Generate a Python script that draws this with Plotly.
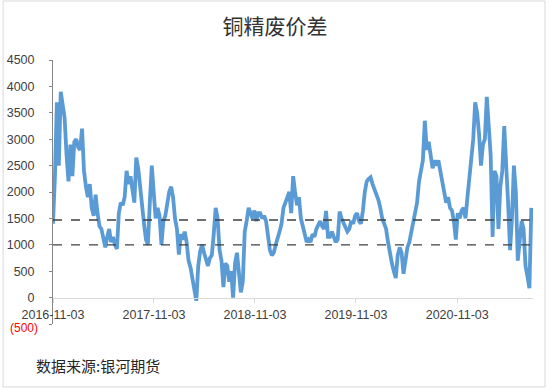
import pandas as pd
import plotly.graph_objects as go

# ---------------- data ----------------
title_text = "铜精废价差"
source_text = "数据来源:银河期货"
start_date = "2016-11-03"
values = [
    1400, 2300, 3700, 2500, 3900, 3600, 3400, 2700, 2200, 2900,
    2300, 2950, 3000, 2850, 2800, 3200, 2400, 2100, 1900, 2150,
    1700, 1550, 1950, 1600, 1350, 1300, 1100, 950, 1150, 1300,
    1050, 1150, 1000, 920, 1600, 1800, 1750, 1900, 2400, 2150,
    2300, 2000, 1800, 2650, 2450, 2100, 1700, 1400, 1100, 1000,
    1800, 2500, 2000, 1500, 1700, 1550, 1000, 1450, 1550, 1800,
    2000, 2100, 1900, 1500, 1300, 815, 1200, 1100, 1250, 1050,
    700, 570, 300, 150, -60, 600, 880, 1000, 850, 750,
    600, 750, 800, 1200, 1700, 1500, 900, 700, 200, 650,
    600, 300, 500, 0, 650, 850, 500, 100, 300, 1250,
    1450, 1700, 1600, 1500, 1650, 1450, 1600, 1600, 1500, 1550,
    1450, 1100, 900, 800, 850, 1000, 1100, 1250, 1400, 1700,
    1800, 1900, 2000, 1600, 2300, 2000, 1750, 1900, 1500, 1350,
    1200, 1050, 1100, 1050, 1200, 1150, 1300, 1400, 1450, 1350,
    1300, 1640, 1150, 1150, 1250, 1150, 1050, 1100, 1630, 1500,
    1400, 1350, 1250, 1300, 1450, 1400, 1550, 1600, 1450, 1400,
    1640, 2000, 2200, 2250, 2280, 2150, 2050, 2000, 1850, 1700,
    1500, 1400, 1300, 1050, 800, 650, 500, 370, 800, 950,
    850, 450, 700, 950, 1050, 1250, 1400, 1600, 1800, 2200,
    2450, 2600, 3350, 2800, 2950, 2700, 2450, 2600, 2500, 2600,
    2400, 2200, 2000, 1800, 1900, 1700, 1650, 1450, 1100, 1600,
    1500, 1650, 1700, 1500, 1900, 2300, 2600, 3000, 3700, 3500,
    3100, 2500, 2900, 3000, 3800, 3100, 2700, 1150, 2400, 2300,
    1300, 2100, 2400, 3250, 2600, 1800, 900, 1500, 2500, 2000,
    700, 1100, 1450, 1300, 600, 400, 180, 1700,
]
dates = pd.date_range(start_date, periods=len(values), freq="7D")

x_tick_vals = ["2016-11-03", "2017-11-03", "2018-11-03", "2019-11-03", "2020-11-03"]
y_tick_vals = [-500, 0, 500, 1000, 1500, 2000, 2500, 3000, 3500, 4000, 4500]
y_tick_text = [""] + [str(v) for v in y_tick_vals[1:]]
neg_label = "(500)"
ref_lines = [1470, 1000]
x_range = ["2016-11-03", "2021-08-04"]
y_range = [-500, 4500]

# ---------------- figure ----------------
fig = go.Figure()
fig.add_trace(go.Scatter(
    x=dates, y=values, mode="lines",
    line=dict(color="#5B9BD5", width=3.8),
    hoverinfo="skip", showlegend=False,
))

shapes = []
for v in ref_lines:
    shapes.append(dict(type="line", xref="paper", yref="y", x0=0, x1=1.004, y0=v, y1=v,
                       line=dict(color="#404040", width=1.3, dash="dash")))
# outer chart-area border
shapes.append(dict(type="rect", xref="paper", yref="paper",
                   x0=-0.104, x1=1.025, y0=-0.2386, y1=1.2235,
                   line=dict(color="#D9D9D9", width=1), fillcolor="rgba(0,0,0,0)", layer="below"))

tick_font = dict(family="Liberation Sans, Arial, sans-serif", size=12.5, color="#404040")

fig.update_layout(
    width=550, height=389,
    margin=dict(l=53, r=17, t=60, b=65, autoexpand=False),
    paper_bgcolor="white", plot_bgcolor="white",
    title=dict(text=title_text, x=0.5, xanchor="center", y=1 - 26.5 / 389, yanchor="middle",
               font=dict(family="Noto Sans CJK SC, sans-serif", size=21, color="#333333")),
    xaxis=dict(
        type="date", range=x_range, anchor="free", position=0.1,
        showline=True, linecolor="#D9D9D9", linewidth=1,
        ticks="outside", ticklen=4, tickcolor="#D9D9D9",
        tickvals=x_tick_vals, ticktext=x_tick_vals,
        showgrid=False, zeroline=False, tickfont=tick_font,
        ticklabelstandoff=1, automargin=False,
    ),
    yaxis=dict(
        range=y_range, showline=True, linecolor="#868686", linewidth=1,
        ticks="outside", ticklen=3, tickcolor="#868686",
        tickvals=y_tick_vals, ticktext=y_tick_text,
        showgrid=False, zeroline=False, tickfont=tick_font,
        ticklabelstandoff=12, automargin=False,
    ),
    shapes=shapes,
    annotations=[
        dict(text=source_text, xref="paper", yref="paper",
             x=(34 - 53) / 480, y=(324 - 365.5) / 264, xanchor="left", yanchor="middle",
             showarrow=False,
             font=dict(family="Noto Sans CJK SC, sans-serif", size=15, color="#262626")),
        dict(text=neg_label, xref="paper", yref="y",
             x=(40 - 53) / 480, y=y_range[0], xanchor="right", yanchor="middle",
             yshift=-4, showarrow=False,
             font=dict(family="Liberation Sans, Arial, sans-serif", size=12, color="#FF0000")),
    ],
)

fig.write_html("out.html", config={"displayModeBar": False},
               post_script="document.body.style.margin='0';")
